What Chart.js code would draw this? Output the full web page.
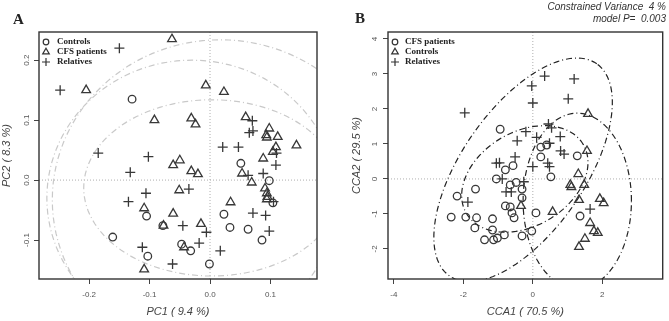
<!DOCTYPE html>
<html>
<head>
<meta charset="utf-8">
<script src="https://cdn.jsdelivr.net/npm/chart.js@4.4.0/dist/chart.umd.min.js"></script>
<style>
body{margin:0;background:#fff;}
#wrap{position:relative;width:669px;height:321px;overflow:hidden;}
.panel{position:absolute;top:0;}
.tag{position:absolute;font-family:"Liberation Serif",serif;font-weight:bold;font-size:15px;line-height:15px;color:#222;}
.note{position:absolute;right:3px;top:1px;font-family:"Liberation Sans",Arial,sans-serif;font-style:italic;font-size:10px;line-height:12px;color:#333;text-align:right;white-space:pre;}
</style>
</head>
<body>
<div id="wrap">
  <canvas id="pca" class="panel" width="335" height="321" style="left:0"></canvas>
  <canvas id="cca" class="panel" width="334" height="321" style="left:335px"></canvas>
  <div class="tag" style="left:13px;top:12px">A</div>
  <div class="tag" style="left:355px;top:11px">B</div>
  <div class="note">Constrained Variance  4 %
model P=  0.003</div>
</div>
<script>
// A - PCA scores (PC1, PC2)
const pcaControls = [[-0.129,0.135],[0.051,0.028],[0.098,-0.001],[0.104,-0.038],[-0.105,-0.060],[0.023,-0.057],[-0.078,-0.076],[0.033,-0.079],[0.063,-0.082],[-0.161,-0.095],[0.086,-0.100],[-0.047,-0.107],[-0.032,-0.118],[-0.103,-0.127],[-0.001,-0.140]]
const pcaPatients = [[-0.063,0.235],[-0.205,0.150],[-0.007,0.158],[0.023,0.147],[-0.092,0.100],[-0.031,0.103],[-0.024,0.093],[0.059,0.105],[0.098,0.086],[0.093,0.075],[0.094,0.071],[0.112,0.072],[0.143,0.058],[0.109,0.055],[0.104,0.047],[0.088,0.036],[-0.050,0.033],[-0.061,0.025],[-0.031,0.015],[-0.020,0.010],[0.053,0.011],[0.069,-0.004],[-0.051,-0.017],[0.091,-0.014],[0.094,-0.022],[0.095,-0.028],[0.094,-0.032],[0.034,-0.037],[-0.109,-0.047],[-0.061,-0.056],[-0.077,-0.076],[-0.015,-0.073],[-0.043,-0.112],[-0.109,-0.149]]
const pcaRelatives = [[-0.150,0.220],[-0.248,0.150],[0.070,0.099],[0.065,0.079],[0.071,0.082],[0.021,0.055],[0.047,0.055],[-0.185,0.045],[-0.102,0.039],[0.110,0.045],[-0.132,0.013],[0.109,0.025],[0.063,0.008],[0.088,0.011],[-0.106,-0.022],[-0.035,-0.015],[0.105,-0.036],[-0.135,-0.036],[0.071,-0.055],[0.092,-0.059],[-0.045,-0.076],[-0.006,-0.087],[0.098,-0.085],[-0.112,-0.112],[-0.018,-0.105],[0.017,-0.118],[-0.062,-0.140]]
const pcaXTicks = [-0.2, -0.1, 0.0, 0.1]
const pcaYTicks = [-0.1, 0.0, 0.1, 0.2]
const pcaXRange = [-0.283, 0.177]
const pcaYRange = [-0.165, 0.247]
// group ellipses: centre x, centre y, radius x, radius y, angle (deg)
const pcaEllipses = [[0.017,-0.033,0.278,0.267,0],[-0.03,-0.03,0.24,0.23,0],[0.003,-0.013,0.212,0.147,0]]

// B - CCA scores (CCA1, CCA2)
const ccaPatients = [[-0.94,1.42],[0.23,0.91],[0.40,0.97],[0.23,0.63],[1.28,0.66],[-0.57,0.38],[-0.79,0.26],[0.52,0.06],[-1.05,0.00],[-0.65,-0.17],[-0.48,-0.10],[-0.31,-0.29],[-0.31,-0.54],[-0.79,-0.77],[-0.65,-0.80],[-0.60,-0.97],[-0.54,-1.11],[0.09,-0.97],[-2.18,-0.49],[-1.65,-0.29],[-2.35,-1.09],[-1.93,-1.09],[-1.62,-1.11],[-1.16,-1.14],[-1.67,-1.40],[-1.16,-1.46],[-0.82,-1.60],[-1.39,-1.74],[-1.13,-1.74],[-1.02,-1.69],[-0.31,-1.63],[-0.03,-1.49],[1.36,-1.06]]
const ccaControls = [[1.59,1.86],[1.56,0.80],[-0.34,-0.77],[0.57,-0.94],[1.31,0.14],[1.08,-0.17],[1.11,-0.23],[1.48,-0.17],[1.33,-0.60],[1.93,-0.57],[2.04,-0.69],[1.65,-1.26],[1.76,-1.49],[1.87,-1.54],[1.50,-1.71],[1.33,-1.94]]
const ccaRelatives = [[-1.96,1.89],[-0.03,2.66],[0.34,2.94],[1.19,2.86],[0.00,2.17],[1.02,2.29],[-0.20,1.35],[0.45,1.57],[0.54,1.46],[-0.45,1.09],[0.11,1.19],[0.79,1.21],[0.48,1.02],[0.80,0.80],[0.90,0.71],[-0.51,0.63],[-0.96,0.46],[-1.05,0.45],[0.00,0.35],[0.43,0.45],[0.48,0.35],[-0.88,0.00],[-0.26,-0.08],[-0.77,-0.37],[-0.62,-0.37],[-1.87,-0.66],[1.65,-0.86]]
const ccaXTicks = [-4, -2, 0, 2]
const ccaYTicks = [-2, -1, 0, 1, 2, 3, 4]
const ccaXRange = [-4.17, 3.74]
const ccaYRange = [-2.86, 4.2]
const ccaEllipses = [[-0.28,0.26,3.7,1.77,55],[-0.23,0.0,1.95,1.35,30],[1.28,-0.63,1.56,2.51,0]]

Chart.defaults.font.family = '"Liberation Sans", Arial, sans-serif'

function pts(arr) {
    return arr.map(p => ({x: p[0], y: p[1]}))
}

function ellipse(e) {
    const [cx, cy, rx, ry, deg] = e
    const a = deg * Math.PI / 180
    const out = []
    for (let i = 0; i <= 120; i++) {
        const t = i / 120 * 2 * Math.PI
        const u = rx * Math.cos(t), v = ry * Math.sin(t)
        out.push({x: cx + u * Math.cos(a) - v * Math.sin(a), y: cy + u * Math.sin(a) + v * Math.cos(a)})
    }
    return out
}

function markers(label, arr, style, radius) {
    return {
        label: label, data: pts(arr), order: 1,
        pointStyle: style, pointRadius: radius, pointHoverRadius: radius,
        pointBorderWidth: 1.3, pointBorderColor: '#383838', pointBackgroundColor: 'rgba(0,0,0,0)'
    }
}

function curve(data, color, dash, width) {
    return {
        data: data, showLine: true, order: 2, pointRadius: 0,
        borderColor: color, borderWidth: width, borderDash: dash, fill: false
    }
}

// plot frame, like R's box()
const framePlugin = {
    id: 'frame',
    afterDraw(chart) {
        const {ctx, chartArea: a} = chart
        ctx.save()
        ctx.strokeStyle = '#333'
        ctx.lineWidth = 1.4
        ctx.strokeRect(a.left, a.top, a.right - a.left, a.bottom - a.top)
        ctx.restore()
    }
}

// legend inside the plot, top left
const keyPlugin = {
    id: 'key',
    afterDraw(chart, args, opts) {
        const {ctx, chartArea: a} = chart
        ctx.save()
        ctx.font = 'bold 9px "Liberation Serif", serif'
        ctx.textBaseline = 'middle'
        for (let i = 0; i < 3; i++) {
            const ds = chart.data.datasets[i]
            const x = a.left + opts.left
            const y = a.top + opts.top + i * opts.gap
            ctx.strokeStyle = '#333'
            ctx.fillStyle = 'rgba(0,0,0,0)'
            ctx.lineWidth = 1.2
            Chart.helpers.drawPoint(ctx, {pointStyle: ds.pointStyle, radius: opts.radius[i], borderWidth: 1.2, rotation: 0}, x, y)
            ctx.fillStyle = '#222'
            ctx.fillText(ds.label, x + opts.textGap, y)
        }
        ctx.restore()
    }
}

function axis(range, ticks, digits, title, cfg) {
    return {
        type: 'linear', min: range[0], max: range[1], bounds: 'data',
        afterBuildTicks: s => { s.ticks = ticks.map(v => ({value: v})) },
        afterFit: s => { if (cfg.size) { if (s.isHorizontal()) s.height = cfg.size; else s.width = cfg.size } },
        grid: {display: true, drawOnChartArea: false, drawTicks: true, tickLength: 5, color: '#444', lineWidth: 1},
        border: {display: false},
        ticks: {
            autoSkip: false, color: '#555', font: {size: 8}, padding: cfg.pad,
            minRotation: cfg.rot, maxRotation: cfg.rot, crossAlign: cfg.rot ? 'center' : 'near',
            callback: v => Number(v).toFixed(digits)
        },
        title: {display: true, text: title, color: '#444', font: {size: 11, style: 'italic'}, padding: cfg.titlePad}
    }
}

function plot(id, groups, ellipses, color, xr, yr, xt, yt, digits, titles, box) {
    const datasets = [
        markers(groups[0][0], groups[0][1], groups[0][2], groups[0][3]),
        markers(groups[1][0], groups[1][1], groups[1][2], groups[1][3]),
        markers(groups[2][0], groups[2][1], groups[2][2], groups[2][3])
    ]
    ellipses.forEach(e => datasets.push(curve(ellipse(e), color, [6, 3, 1, 3], 1.2)))
    datasets.push(curve([{x: 0, y: yr[0]}, {x: 0, y: yr[1]}], '#9a9a9a', [1, 2], 0.8))
    datasets.push(curve([{x: xr[0], y: 0}, {x: xr[1], y: 0}], '#9a9a9a', [1, 2], 0.8))

    return new Chart(document.getElementById(id), {
        type: 'scatter',
        data: {datasets: datasets},
        options: {
            responsive: false,
            animation: false,
            layout: {padding: {left: 0, top: 32, right: box.right, bottom: 0}},
            scales: {
                x: axis(xr, xt, digits, titles[0], {size: 42, pad: 6, rot: 0, titlePad: {top: 0, bottom: 2}}),
                y: axis(yr, yt, digits, titles[1], {size: box.yWidth, pad: box.yPad, rot: 90, titlePad: {top: box.yTitle, bottom: 0}})
            },
            plugins: {
                legend: {display: false},
                tooltip: {enabled: false},
                key: {left: 7, top: 10, gap: 10, textGap: box.textGap, radius: [2.8, 3.8, 4]}
            }
        },
        plugins: [framePlugin, keyPlugin]
    })
}

plot('pca',
    [['Controls', pcaControls, 'circle', 3.8], ['CFS patients', pcaPatients, 'triangle', 5], ['Relatives', pcaRelatives, 'cross', 5]],
    pcaEllipses, '#c9c9c9', pcaXRange, pcaYRange, pcaXTicks, pcaYTicks, 1,
    ['PC1 ( 9.4 %)', 'PC2 ( 8.3 %)'],
    {right: 18, yWidth: 39, yPad: 0, yTitle: 0.5, textGap: 11})

plot('cca',
    [['CFS patients', ccaPatients, 'circle', 3.8], ['Controls', ccaControls, 'triangle', 5], ['Relatives', ccaRelatives, 'cross', 5]],
    ccaEllipses, '#222', ccaXRange, ccaYRange, ccaXTicks, ccaYTicks, 0,
    ['CCA1 ( 70.5 %)', 'CCA2 ( 29.5 %)'],
    {right: 2, yWidth: 53, yPad: 5, yTitle: 15, textGap: 10})
</script>
</body>
</html>
